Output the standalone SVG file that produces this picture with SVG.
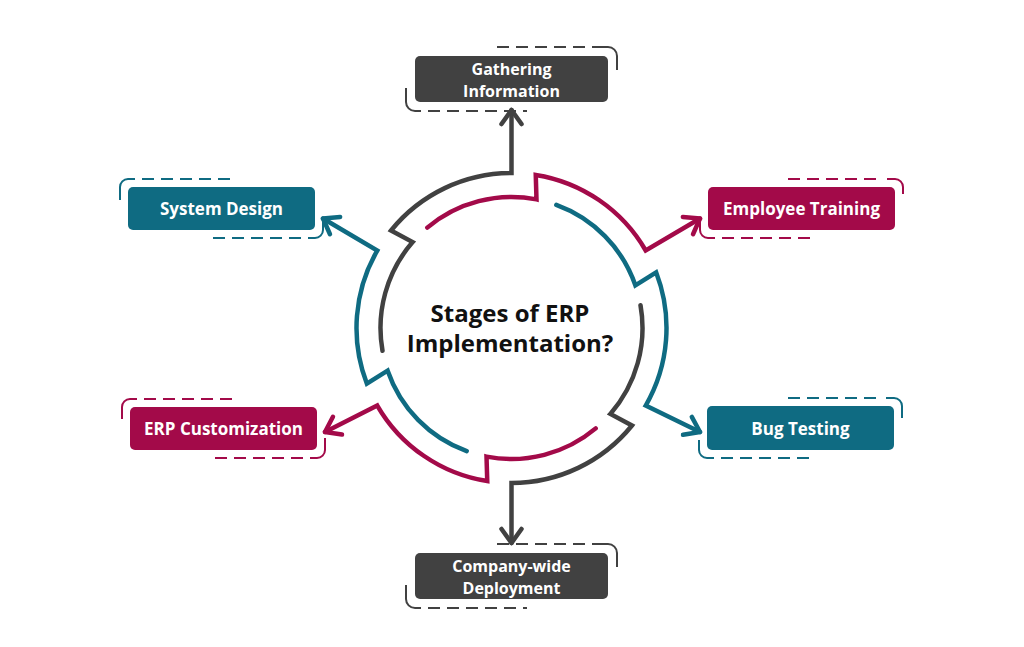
<svg xmlns="http://www.w3.org/2000/svg" width="1024" height="647" viewBox="0 0 1024 647">
<style>
.ring{fill:none;stroke-width:4.5;stroke-linecap:round;stroke-linejoin:miter}
.g{stroke:#414141}.m{stroke:#a30a49}.t{stroke:#0f6b82}
.fg{fill:#414141}.fm{fill:#a30a49}.ft{fill:#0f6b82}
.br{fill:none;stroke-width:2}
.dash{stroke-dasharray:12 7}
.lbl{font-family:"Open Sans","Liberation Sans",sans-serif;font-weight:700;font-size:17px;fill:#ffffff;text-anchor:middle}
.lbl2{font-size:16px}
.title{font-family:"Open Sans","Liberation Sans",sans-serif;font-weight:700;font-size:24px;fill:#111111;text-anchor:middle}
</style>
<defs>
<marker id="ag" markerUnits="userSpaceOnUse" viewBox="-17 -13 21 26" markerWidth="21" markerHeight="26" refX="0" refY="0" orient="auto"><path d="M-14,-10 L0,0 L-14,10" fill="none" stroke="#414141" stroke-width="4.5" stroke-linecap="round" stroke-linejoin="round"/></marker>
<marker id="am" markerUnits="userSpaceOnUse" viewBox="-17 -13 21 26" markerWidth="21" markerHeight="26" refX="0" refY="0" orient="auto"><path d="M-14,-10 L0,0 L-14,10" fill="none" stroke="#a30a49" stroke-width="4.5" stroke-linecap="round" stroke-linejoin="round"/></marker>
<marker id="at" markerUnits="userSpaceOnUse" viewBox="-17 -13 21 26" markerWidth="21" markerHeight="26" refX="0" refY="0" orient="auto"><path d="M-14,-10 L0,0 L-14,10" fill="none" stroke="#0f6b82" stroke-width="4.5" stroke-linecap="round" stroke-linejoin="round"/></marker>
</defs>
<rect width="1024" height="647" fill="#ffffff"/>

<g id="connectors">
<path class="ring g" marker-end="url(#ag)" d="M382.49,350.75 A131,131 0 0 1 412.63,242.06 L391.04,230.46 A155,155 0 0 1 511.5,173 L511.5,110"/>
<path class="ring m" marker-end="url(#am)" d="M427.29,227.65 A131,131 0 0 1 536.5,199.41 L535.75,174.91 A155,155 0 0 1 645.73,250.5 L700,218.5"/>
<path class="ring t" marker-end="url(#at)" d="M556.3,204.9 A131,131 0 0 1 635.36,285.35 L656.2,272.45 A155,155 0 0 1 645.73,405.5 L700,432"/>
<path class="ring g" marker-end="url(#ag)" d="M640.51,305.25 A131,131 0 0 1 610.37,413.94 L631.96,425.54 A155,155 0 0 1 511.5,483 L511.5,543"/>
<path class="ring m" marker-end="url(#am)" d="M595.71,428.35 A131,131 0 0 1 486.5,456.59 L487.25,481.09 A155,155 0 0 1 377.27,405.5 L325,432"/>
<path class="ring t" marker-end="url(#at)" d="M466.7,451.1 A131,131 0 0 1 387.64,370.65 L366.8,383.55 A155,155 0 0 1 377.27,250.5 L323,218.5"/>
</g>

<g id="center">
<text class="title" x="510" y="321.5">Stages of ERP</text>
<text class="title" x="510" y="352">Implementation?</text>
</g>

<g id="gathering">
<rect class="fg" x="415" y="56" width="193" height="46" rx="5"/>
<path class="br g dash" d="M497,47 H601"/>
<path class="br g" d="M601,47 H608 A9,9 0 0 1 617,56 V70"/>
<path class="br g" d="M406,88 V102 A9,9 0 0 0 415,111 H421"/>
<path class="br g dash" d="M428,111 H527"/>
<text class="lbl lbl2" x="511.5" y="74.5">Gathering</text>
<text class="lbl lbl2" x="511.5" y="96.5">Information</text>
</g>

<g id="employee-training">
<rect class="fm" x="708" y="187" width="187" height="43" rx="5"/>
<path class="br m dash" d="M788,179 H881"/>
<path class="br m" d="M887,179 H895 A8,8 0 0 1 903,187 V194"/>
<path class="br m" d="M700,220 V230 A8,8 0 0 0 708,238 H715"/>
<path class="br m dash" d="M722,238 H815"/>
<text class="lbl" x="801.5" y="214.5">Employee Training</text>
</g>

<g id="bug-testing">
<rect class="ft" x="707" y="406" width="187" height="44" rx="5"/>
<path class="br t dash" d="M788,398 H880"/>
<path class="br t" d="M886,398 H894 A8,8 0 0 1 902,406 V418"/>
<path class="br t" d="M699,440 V450 A8,8 0 0 0 707,458 H714"/>
<path class="br t dash" d="M721,458 H813"/>
<text class="lbl" x="800.5" y="434.5">Bug Testing</text>
</g>

<g id="deployment">
<rect class="fg" x="415" y="553" width="193" height="46" rx="5"/>
<path class="br g dash" d="M497,544 H601"/>
<path class="br g" d="M601,544 H608 A9,9 0 0 1 617,553 V567"/>
<path class="br g" d="M406,585 V599 A9,9 0 0 0 415,608 H421"/>
<path class="br g dash" d="M428,608 H527"/>
<text class="lbl lbl2" x="511.5" y="571.5">Company-wide</text>
<text class="lbl lbl2" x="511.5" y="593.5">Deployment</text>
</g>

<g id="erp-customization">
<rect class="fm" x="130" y="407" width="187" height="43" rx="5"/>
<path class="br m" d="M122,419 V407 A8,8 0 0 1 130,399 H137"/>
<path class="br m dash" d="M144,399 H235"/>
<path class="br m" d="M325,438 V450 A8,8 0 0 1 317,458 H310"/>
<path class="br m dash" d="M303,458 H208"/>
<text class="lbl" x="223.5" y="434.5">ERP Customization</text>
</g>

<g id="system-design">
<rect class="ft" x="128" y="187" width="187" height="43" rx="5"/>
<path class="br t" d="M120,200 V187 A8,8 0 0 1 128,179 H135"/>
<path class="br t dash" d="M142,179 H235"/>
<path class="br t" d="M323,221 V230 A8,8 0 0 1 315,238 H308"/>
<path class="br t dash" d="M301,238 H208"/>
<text class="lbl" x="221.5" y="214.5">System Design</text>
</g>
</svg>
